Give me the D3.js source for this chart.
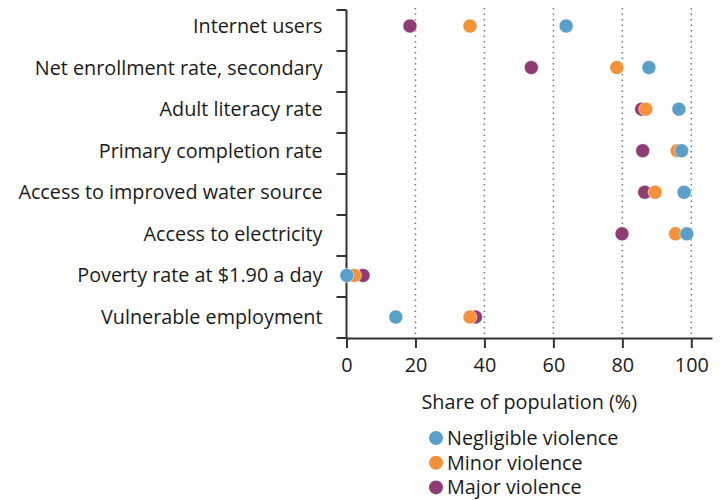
<!DOCTYPE html>
<html>
<head>
<meta charset="utf-8">
<script src="https://cdn.jsdelivr.net/npm/d3@7"></script>
<style>
  body { margin: 0; background: #fff; }
  text { font-family: "Open Sans", sans-serif; fill: #1a1a1a; }
</style>
</head>
<body>
<div id="chart"></div>
<script>
// Indicators, top to bottom
const indicators = [
    "Internet users",
    "Net enrollment rate, secondary",
    "Adult literacy rate",
    "Primary completion rate",
    "Access to improved water source",
    "Access to electricity",
    "Poverty rate at $1.90 a day",
    "Vulnerable employment"
];

// Share of population (%) by violence level
const negligible = [63.7, 87.7, 96.4, 97.2, 97.9, 98.7, 0.1, 14.3];
const minor      = [35.8, 78.4, 86.8, 95.9, 89.5, 95.4, 2.3, 35.8];
const major      = [18.4, 53.6, 85.6, 85.9, 86.5, 79.9, 4.8, 37.4];

const xTicks = [0, 20, 40, 60, 80, 100];
const gridTicks = [20, 40, 60, 80, 100];

const seriesNames = ["Negligible violence", "Minor violence", "Major violence"];
const seriesColors = ["#5a9fc7", "#f3923a", "#8f3c74"];

const width = 722, height = 500;
const fontSize = "19.8px";

const svg = d3.select("#chart")
    .append("svg")
    .attr("width", width)
    .attr("height", height);

// scales
const x = d3.scaleLinear().domain([0, 106]).range([346.5, 712]);
const yBand = d3.scaleBand().domain(indicators).range([10, 338]);
const y = d3.scalePoint().domain(indicators).range([26, 317]);
const color = d3.scaleOrdinal().domain(seriesNames).range(seriesColors);

// dotted gridlines
svg.append("g")
    .selectAll("line")
    .data(gridTicks)
    .enter().append("line")
    .attr("x1", d => x(d))
    .attr("x2", d => x(d))
    .attr("y1", 8)
    .attr("y2", 338)
    .attr("stroke", "#777")
    .attr("stroke-width", 1.5)
    .attr("stroke-dasharray", "1.5,4");

// x axis
const xAxis = svg.append("g")
    .attr("transform", `translate(0, ${yBand.range()[1]})`)
    .call(d3.axisBottom(x).tickValues(xTicks).tickSize(10).tickSizeOuter(0).tickPadding(10));
xAxis.select(".domain").attr("stroke", "#333").attr("stroke-width", 2);
xAxis.selectAll(".tick line").attr("stroke", "#333").attr("stroke-width", 2);
xAxis.selectAll(".tick text")
    .style("font-size", fontSize)
    .style("font-family", "'Open Sans', sans-serif")
    .attr("fill", "#1a1a1a");

// y axis line + ticks at band boundaries
const yBounds = indicators.map(d => yBand(d)).concat([yBand.range()[1]]);
svg.append("line")
    .attr("x1", x(0)).attr("x2", x(0))
    .attr("y1", yBand.range()[0]).attr("y2", yBand.range()[1])
    .attr("stroke", "#333").attr("stroke-width", 2);
svg.append("g")
    .selectAll("line")
    .data(yBounds)
    .enter().append("line")
    .attr("x1", x(0) - 10)
    .attr("x2", x(0))
    .attr("y1", d => d)
    .attr("y2", d => d)
    .attr("stroke", "#333")
    .attr("stroke-width", 2);

// category labels
svg.append("g")
    .selectAll("text")
    .data(indicators)
    .enter().append("text")
    .attr("x", x(0) - 24)
    .attr("y", d => y(d))
    .attr("dy", "0.35em")
    .attr("text-anchor", "end")
    .style("font-size", fontSize)
    .text(d => d);

// axis title
svg.append("text")
    .attr("x", (x.range()[0] + x.range()[1]) / 2)
    .attr("y", 402)
    .attr("dy", "0.35em")
    .attr("text-anchor", "middle")
    .style("font-size", fontSize)
    .text("Share of population (%)");

// dots: major first, then minor, then negligible on top
const drawOrder = [
    { name: "Major violence", values: major },
    { name: "Minor violence", values: minor },
    { name: "Negligible violence", values: negligible }
];
drawOrder.forEach(s => {
    svg.append("g")
        .selectAll("circle")
        .data(s.values)
        .enter().append("circle")
        .attr("cx", d => x(d))
        .attr("cy", (d, i) => y(indicators[i]))
        .attr("r", 7)
        .attr("fill", color(s.name))
        .attr("stroke", "#fff")
        .attr("stroke-width", 0.5);
});

// legend
const legend = svg.append("g")
    .attr("transform", "translate(436, 438)");
legend.selectAll("circle")
    .data(seriesNames)
    .enter().append("circle")
    .attr("cx", 0)
    .attr("cy", (d, i) => i * 24.7)
    .attr("r", 7)
    .attr("fill", d => color(d));
legend.selectAll("text")
    .data(seriesNames)
    .enter().append("text")
    .attr("x", 11)
    .attr("y", (d, i) => i * 24.7)
    .attr("dy", "0.35em")
    .style("font-size", fontSize)
    .text(d => d);
</script>
</body>
</html>
